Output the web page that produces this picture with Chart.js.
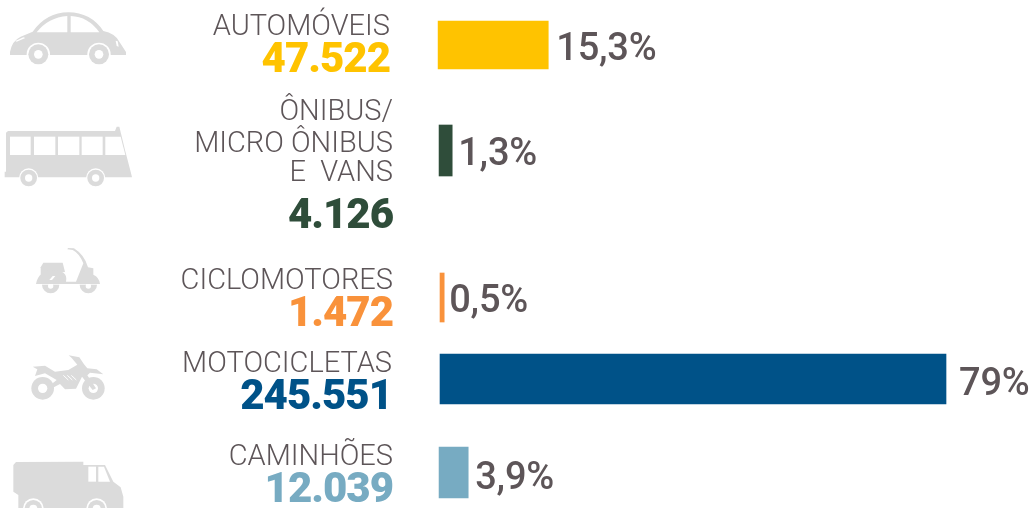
<!DOCTYPE html>
<html lang="pt-BR">
<head>
<meta charset="utf-8">
<title>Frota por tipo de veículo</title>
<script src="https://cdn.jsdelivr.net/npm/chart.js@4"></script>
<style>
    html, body { margin: 0; padding: 0; background: #fff; overflow: hidden; }
    canvas { display: block; }
</style>
</head>
<body>
<canvas id="chart" width="1031" height="508"></canvas>
<script>
// Data
const categories = [['AUTOMÓVEIS'], ['ÔNIBUS/', 'MICRO ÔNIBUS', 'E  VANS'], ['CICLOMOTORES'], ['MOTOCICLETAS'], ['CAMINHÕES']];
const counts = ['47.522', '4.126', '1.472', '245.551', '12.039'];
const shareLabels = ['15,3%', '1,3%', '0,5%', '79%', '3,9%'];
// the bars in the original are not strictly to scale, so these are measured lengths
const barStarts = [-0.3, -0.15, 0, 0, -0.15];
const barEnds = [16.9, 1.9, 0.65, 79, 4.4];

// Layout and colours
const colors = ['#ffc300', '#2f4d3a', '#f9923b', '#005288', '#77abc2'];
const rowCenters = [45, 150.5, 297.5, 379, 472.5];
const barHeights = [48, 51, 49, 50, 51];
const labelBaselines = [[35], [120, 152, 181], [289], [372], [465]];
const countBaselines = [72, 228, 326, 409, 502];
const textRight = [390, 393, 393, 392, 393];
const shareGaps = [8, 6, 5, 13, 7];
const shareBaselines = [60, 165, 312, 395, 489];
const ICON = '#dbdbdb';
const TEXT = '#5d5558';

function wheel(ctx, x, y, ring, outer, inner) {
    ctx.fillStyle = '#fff';
    ctx.beginPath(); ctx.arc(x, y, ring, 0, Math.PI * 2); ctx.fill();
    ctx.fillStyle = ICON;
    ctx.beginPath(); ctx.arc(x, y, outer, 0, Math.PI * 2); ctx.fill();
    ctx.fillStyle = '#fff';
    ctx.beginPath(); ctx.arc(x, y, inner, 0, Math.PI * 2); ctx.fill();
    ctx.fillStyle = ICON;
}

function poly(ctx, pts, color) {
    ctx.fillStyle = color;
    ctx.beginPath();
    pts.forEach((p, i) => i ? ctx.lineTo(p[0], p[1]) : ctx.moveTo(p[0], p[1]));
    ctx.closePath();
    ctx.fill();
}

// Icons are decoration, sketched in 3x units
function drawCar(ctx) {
    ctx.fillStyle = ICON;
    ctx.beginPath();
    ctx.moveTo(30, 156);
    ctx.quadraticCurveTo(36, 122, 62, 110);
    ctx.lineTo(98, 95);
    ctx.quadraticCurveTo(140, 37, 205, 37);
    ctx.quadraticCurveTo(272, 37, 310, 93);
    ctx.quadraticCurveTo(345, 100, 358, 125);
    ctx.lineTo(378, 156);
    ctx.lineTo(378, 165);
    ctx.lineTo(30, 165);
    ctx.closePath();
    ctx.fill();
    ctx.fillStyle = '#fff';
    ctx.beginPath();
    ctx.moveTo(110, 97);
    ctx.quadraticCurveTo(145, 52, 202, 48);
    ctx.lineTo(202, 97);
    ctx.closePath();
    ctx.fill();
    ctx.beginPath();
    ctx.moveTo(212, 48);
    ctx.quadraticCurveTo(265, 50, 298, 97);
    ctx.lineTo(212, 97);
    ctx.closePath();
    ctx.fill();
    poly(ctx, [[46, 123], [70, 112], [76, 114], [50, 125]], '#fff');
    poly(ctx, [[347, 122], [353, 124], [356, 140], [350, 138]], '#fff');
    wheel(ctx, 115, 163, 35, 30, 13);
    wheel(ctx, 297, 163, 35, 30, 13);
}

function drawBus(ctx) {
    poly(ctx, [[18, 398], [24, 393], [345, 393], [350, 380], [358, 380], [375, 450], [392, 515], [396, 532], [14, 532], [14, 515], [18, 515]], ICON);
    [[30, 92], [102, 166], [174, 238], [245, 308]].forEach(w => {
        poly(ctx, [[w[0], 410], [w[1], 410], [w[1], 465], [w[0], 465]], '#fff');
    });
    poly(ctx, [[316, 410], [362, 410], [376, 465], [316, 465]], '#fff');
    wheel(ctx, 86, 534, 29, 25, 11);
    wheel(ctx, 287, 534, 29, 25, 11);
}

function drawScooter(ctx) {
    ctx.fillStyle = ICON;
    ctx.beginPath();
    ctx.arc(152, 164, 26, 0, Math.PI * 2);
    ctx.arc(265, 164, 26, 0, Math.PI * 2);
    ctx.fill();
    ctx.fillStyle = '#fff';
    ctx.fillRect(105, 160, 200, 4);
    ctx.beginPath(); ctx.arc(152, 168, 8, 0, Math.PI * 2); ctx.fill();
    ctx.beginPath(); ctx.arc(265, 168, 8, 0, Math.PI * 2); ctx.fill();
    poly(ctx, [[122, 112], [130, 98], [188, 98], [195, 126], [122, 134]], ICON);
    ctx.fillStyle = ICON;
    ctx.beginPath();
    ctx.moveTo(108, 162);
    ctx.quadraticCurveTo(115, 122, 160, 120);
    ctx.quadraticCurveTo(205, 122, 198, 155);
    ctx.lineTo(228, 155);
    ctx.lineTo(250, 100);
    ctx.quadraticCurveTo(238, 70, 218, 60);
    ctx.lineTo(202, 58);
    ctx.lineTo(204, 54);
    ctx.lineTo(222, 55);
    ctx.quadraticCurveTo(254, 75, 264, 112);
    ctx.lineTo(280, 115);
    ctx.lineTo(280, 134);
    ctx.quadraticCurveTo(298, 142, 300, 162);
    ctx.lineTo(232, 162);
    ctx.lineTo(108, 162);
    ctx.closePath();
    ctx.fill();
    poly(ctx, [[148, 150], [158, 138], [166, 138], [156, 150]], '#fff');
}

function drawMoto(ctx) {
    wheel(ctx, 128, 475, 34, 34, 14);
    wheel(ctx, 280, 475, 34, 34, 14);
    poly(ctx, [[145, 470], [170, 450], [135, 430], [105, 438], [112, 418], [98, 410], [135, 407], [165, 425], [205, 420], [232, 404], [215, 384], [206, 376], [238, 382], [252, 403], [262, 415], [290, 418], [310, 433], [270, 428], [262, 436], [288, 475], [278, 480], [246, 440], [228, 476], [195, 478], [180, 462], [150, 478]], ICON);
    ctx.strokeStyle = '#fff';
    ctx.lineWidth = 3;
    [[190, 205], [202, 217], [214, 229]].forEach(s => {
        ctx.beginPath(); ctx.moveTo(s[0], 436); ctx.lineTo(s[1], 450); ctx.stroke();
    });
}

function drawTruck(ctx) {
    poly(ctx, [[40, 705], [48, 696], [250, 695], [250, 705], [315, 705], [340, 755], [362, 772], [370, 800], [370, 840], [55, 840], [55, 795], [40, 785]], ICON);
    poly(ctx, [[265, 710], [288, 710], [288, 755], [265, 755]], '#fff');
    poly(ctx, [[295, 710], [312, 710], [330, 755], [295, 755]], '#fff');
    wheel(ctx, 100, 836, 31, 26, 12);
    wheel(ctx, 290, 836, 31, 26, 12);
}

const iconPlugin = {
    id: 'icons',
    afterDraw(chart) {
        const ctx = chart.ctx;
        ctx.save();
        ctx.scale(1 / 3, 1 / 3);
        drawCar(ctx);
        drawBus(ctx);
        ctx.translate(0, 690);
        drawScooter(ctx);
        drawMoto(ctx);
        drawTruck(ctx);
        ctx.restore();
    }
};

const textPlugin = {
    id: 'rowText',
    afterDatasetsDraw(chart) {
        const ctx = chart.ctx;
        ctx.save();
        ctx.textBaseline = 'alphabetic';
        categories.forEach((lines, i) => {
            // category name
            ctx.textAlign = 'right';
            ctx.fillStyle = TEXT;
            ctx.font = '300 29px Roboto';
            ctx.letterSpacing = '0px';
            lines.forEach((line, j) => ctx.fillText(line, textRight[i], labelBaselines[i][j]));

            // count
            ctx.fillStyle = colors[i];
            ctx.font = '900 42px Roboto';
            ctx.letterSpacing = '-1px';
            ctx.fillText(counts[i], textRight[i], countBaselines[i]);

            // share, placed from the bar end
            const bar = chart.getDatasetMeta(i).data[0];
            ctx.textAlign = 'left';
            ctx.fillStyle = TEXT;
            ctx.font = '500 38px Roboto';
            ctx.letterSpacing = '-0.2px';
            ctx.fillText(shareLabels[i], bar.x + shareGaps[i], shareBaselines[i]);
        });
        ctx.restore();
    }
};

new Chart(document.getElementById('chart').getContext('2d'), {
    type: 'bar',
    data: {
        datasets: categories.map((name, i) => ({
            label: name.join(' '),
            data: [{ x: [barStarts[i], barEnds[i]], y: rowCenters[i] }],
            backgroundColor: colors[i],
            barThickness: barHeights[i],
            grouped: false
        }))
    },
    options: {
        indexAxis: 'y',
        responsive: false,
        animation: false,
        layout: { padding: 0 },
        plugins: { legend: { display: false }, tooltip: { enabled: false } },
        scales: {
            x: { type: 'linear', display: false, min: -68.7, max: 92.27 },
            y: { type: 'linear', display: false, offset: false, min: 0, max: 508, reverse: true }
        }
    },
    plugins: [iconPlugin, textPlugin]
});
</script>
</body>
</html>
